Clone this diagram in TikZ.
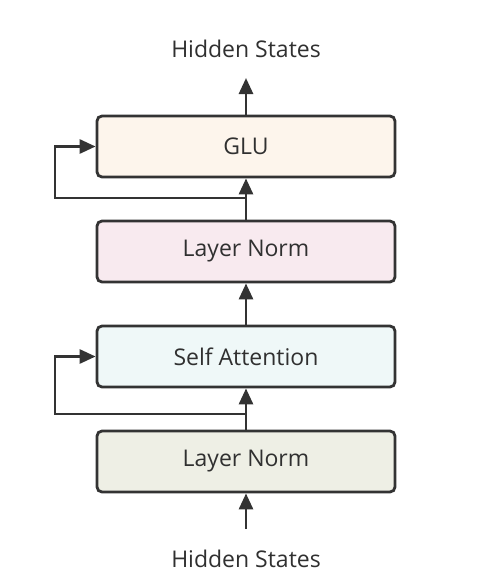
\documentclass[tikz,border=0pt]{standalone}
\usepackage{fontspec}
\setmainfont{Open Sans}
\usetikzlibrary{arrows.meta}
\definecolor{lineGray}{HTML}{333333}
\definecolor{textGray}{HTML}{303030}
\definecolor{gluFill}{HTML}{FDF5EC}
\definecolor{normTopFill}{HTML}{F8EAEF}
\definecolor{attnFill}{HTML}{EFF8F8}
\definecolor{normBotFill}{HTML}{EEEFE5}

\begin{document}
\begin{tikzpicture}[x=1pt,y=-1pt,line width=2.8pt,draw=lineGray,
  flow/.style={-{Triangle[length=16pt,width=14pt]}}]

    % `block' is used for every layer box.
    % `label' is used for the input and output texts.
    \tikzstyle{block} = [draw=lineGray,rounded corners=5pt,minimum width=298pt,minimum height=61pt,
      inner sep=0pt,text=textGray,font=\fontsize{23}{27}\selectfont]
    \tikzstyle{label} = [text=textGray,font=\fontsize{23}{27}\selectfont]
    %
    \useasboundingbox (0,0) rectangle (484,582);

    % Layers, bottom to top.
    \node[block,fill=normBotFill] (normBot) at (246,461.5) {Layer Norm};
    \node[block,fill=attnFill] (attn) at (246,356.5) {Self Attention};
    \node[block,fill=normTopFill] (normTop) at (246,251.5) {Layer Norm};
    \node[block,fill=gluFill] (glu) at (246,146.5) {GLU};

    \node[label] (hidIn) at (246,559) {Hidden States};
    \node[label] (hidOut) at (246,49) {Hidden States};

    \coordinate (inStart) at (246,529);
    \coordinate (outEnd) at (246,78);
    \coordinate (split1) at (246,414);
    \coordinate (split2) at (246,198);

    % Main path.
    \draw[flow] (inStart) -- (normBot);
    \draw[flow] (normBot) -- (attn);
    \draw[flow] (attn) -- (normTop);
    \draw[flow] (normTop) -- (glu);
    \draw[flow] (glu) -- (outEnd);

    % Residual branches.
    \draw[flow] (split1) -| (55,356.5) -- (attn.west);
    \draw[flow] (split2) -| (55,146.5) -- (glu.west);
    %
\end{tikzpicture}
\end{document}
